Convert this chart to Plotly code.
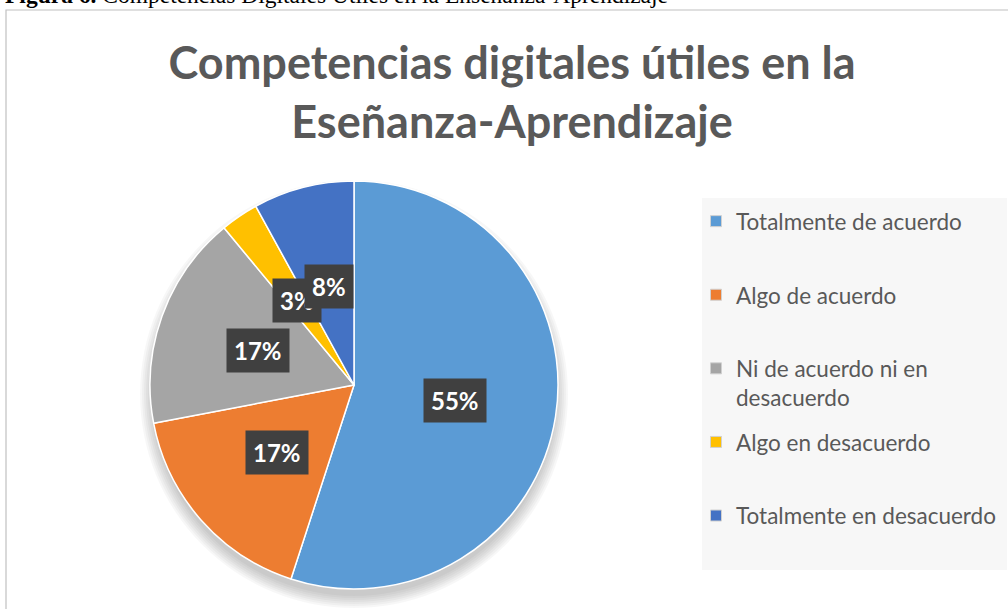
import math
import plotly.graph_objects as go

categories = ["Totalmente de acuerdo", "Algo de acuerdo", "Ni de acuerdo ni en desacuerdo",
              "Algo en desacuerdo", "Totalmente en desacuerdo"]
legend_labels = ["Totalmente de acuerdo<br>&nbsp;",
                 "Algo de acuerdo<br>&nbsp;",
                 "Ni de acuerdo ni en<br>desacuerdo",
                 "Algo en desacuerdo<br>&nbsp;",
                 "Totalmente en desacuerdo<br>&nbsp;"]
values = [55, 17, 17, 3, 8]
colors = ["#5B9BD5", "#ED7D31", "#A5A5A5", "#FFC000", "#4472C4"]

W, H = 1008, 609
cx, cy, r = 354, 385, 204
LEG_FONT = 22.5

fig = go.Figure()

# soft shadow below the pie
shapes = []
for k in range(0, 14, 2):
    shapes.append(dict(type="circle", xref="paper", yref="paper", layer="below",
                       x0=(cx - r - k + 2) / W, x1=(cx + r + k - 2) / W,
                       y0=1 - (cy + 9 + r + k - 2) / H, y1=1 - (cy + 9 - r - k + 2) / H,
                       fillcolor="black", opacity=0.03, line=dict(width=0)))

fig.add_trace(go.Pie(
    labels=categories, values=values, sort=False, direction="clockwise",
    rotation=0, textinfo="none", hoverinfo="label+percent", showlegend=False,
    marker=dict(colors=colors, line=dict(color="white", width=1.5)),
    domain=dict(x=[(cx - r) / W, (cx + r) / W], y=[1 - (cy + r) / H, 1 - (cy - r) / H]),
))

# legend entries (one per category)
for i, (lab, col) in enumerate(zip(legend_labels, colors)):
    fig.add_trace(go.Scatter(
        x=[None], y=[None], mode="markers", name=lab, legendgroup=str(i),
        marker=dict(symbol="square", size=11, color=col, line=dict(color="#D0D0D0", width=1)),
        hoverinfo="skip"))

# data labels at half radius, computed from values
total = sum(values)
cum = 0
annotations = []
for v in values:
    mid = (cum + v / 2) / total * 2 * math.pi
    cum += v
    px = cx + 0.5 * r * math.sin(mid)
    py = cy - 0.5 * r * math.cos(mid)
    annotations.append(dict(
        x=px / W, y=1 - py / H, xref="paper", yref="paper",
        text="<b>%d%%</b>" % round(100 * v / total), showarrow=False,
        font=dict(family="Lato", size=24, color="white"),
        bgcolor="#404040", borderpad=7, xanchor="center", yanchor="middle"))

annotations.append(dict(
    x=3 / W, y=1, xref="paper", yref="paper", xanchor="left", yanchor="middle", yshift=5,
    text="<b>Figura 6.</b> Competencias Digitales Útiles en la Enseñanza-Aprendizaje",
    showarrow=False, font=dict(family="Liberation Serif", size=23.5, color="black")))

# legend background box
shapes.append(dict(type="rect", xref="paper", yref="paper", layer="below",
                   x0=702 / W, x1=1007 / W, y0=1 - 570 / H, y1=1 - 198 / H,
                   fillcolor="#F7F7F7", line=dict(width=0)))
# chart border
shapes.append(dict(type="rect", xref="paper", yref="paper", layer="above",
                   x0=6 / W, x1=1.02, y0=-0.03, y1=1 - 10 / H,
                   line=dict(color="#C0C0C0", width=1.2)))

item_h = 2 * 1.3 * LEG_FONT + 3
fig.update_layout(
    width=W, height=H, margin=dict(l=0, r=0, t=0, b=0),
    paper_bgcolor="white", plot_bgcolor="rgba(0,0,0,0)",
    xaxis=dict(visible=False), yaxis=dict(visible=False),
    title=dict(text="<b>Competencias digitales útiles en la<br>Eseñanza-Aprendizaje</b>",
               x=0.508, xanchor="center", y=1 - 79 / H, yanchor="middle",
               font=dict(family="Lato", size=45, color="#595959")),
    legend=dict(x=696 / W, y=1 - 200 / H, xanchor="left", yanchor="top",
                bgcolor="rgba(0,0,0,0)", valign="top",
                tracegroupgap=73.6 - item_h,
                font=dict(family="Lato", size=LEG_FONT, color="#595959"),
                itemwidth=30),
    shapes=shapes,
    annotations=annotations,
)

fig.write_html("out.html", config={"displayModeBar": False},
               post_script="document.body.style.margin='0px';")
